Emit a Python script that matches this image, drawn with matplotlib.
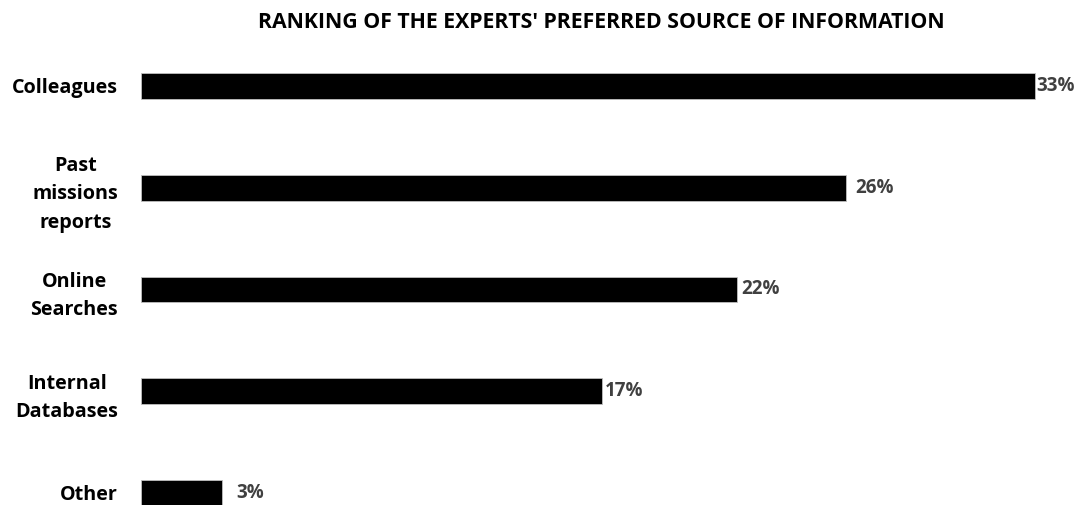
import matplotlib.pyplot as plt

categories = ["Colleagues", "Past\nmissions\nreports", "Online\nSearches", "Internal\nDatabases", "Other"]
shares = [33, 26, 22, 17, 3]
# gap between bar end and its value label, in data units
label_gaps = [0.05, 0.35, 0.15, 0.1, 0.5]

plt.rcParams['font.family'] = ['Open Sans', 'DejaVu Sans']
plt.rcParams['font.weight'] = 'bold'

fig = plt.figure(figsize=(10.82, 5.05), dpi=100)
ax = fig.add_axes([141 / 1082, 0, 935 / 1082, 1])

ypos = list(range(len(categories)))[::-1]
ax.barh(ypos, shares, height=0.255, color='black', edgecolor='#bfbfbf', linewidth=0.6)

for y, v, g in zip(ypos, shares, label_gaps):
    ax.text(v + g, y, f"{v}%", va='center', ha='left', fontsize=13.5,
            fontweight='bold', color='#404040')

ax.set_xlim(0, 34.5)
ax.set_ylim(-0.118, 4.845)
ax.set_yticks(ypos)
ax.set_yticklabels(categories, fontsize=14.2, fontweight='bold',
                   multialignment='center', linespacing=1.55)
ax.tick_params(axis='y', length=0, pad=16.5)
ax.set_xticks([])
for s in ax.spines.values():
    s.set_visible(False)

fig.text(0.5555, 0.956, "RANKING OF THE EXPERTS' PREFERRED SOURCE OF INFORMATION",
         ha='center', va='center', fontsize=15.3, fontweight='bold')

fig.savefig("out.png", dpi=100)
